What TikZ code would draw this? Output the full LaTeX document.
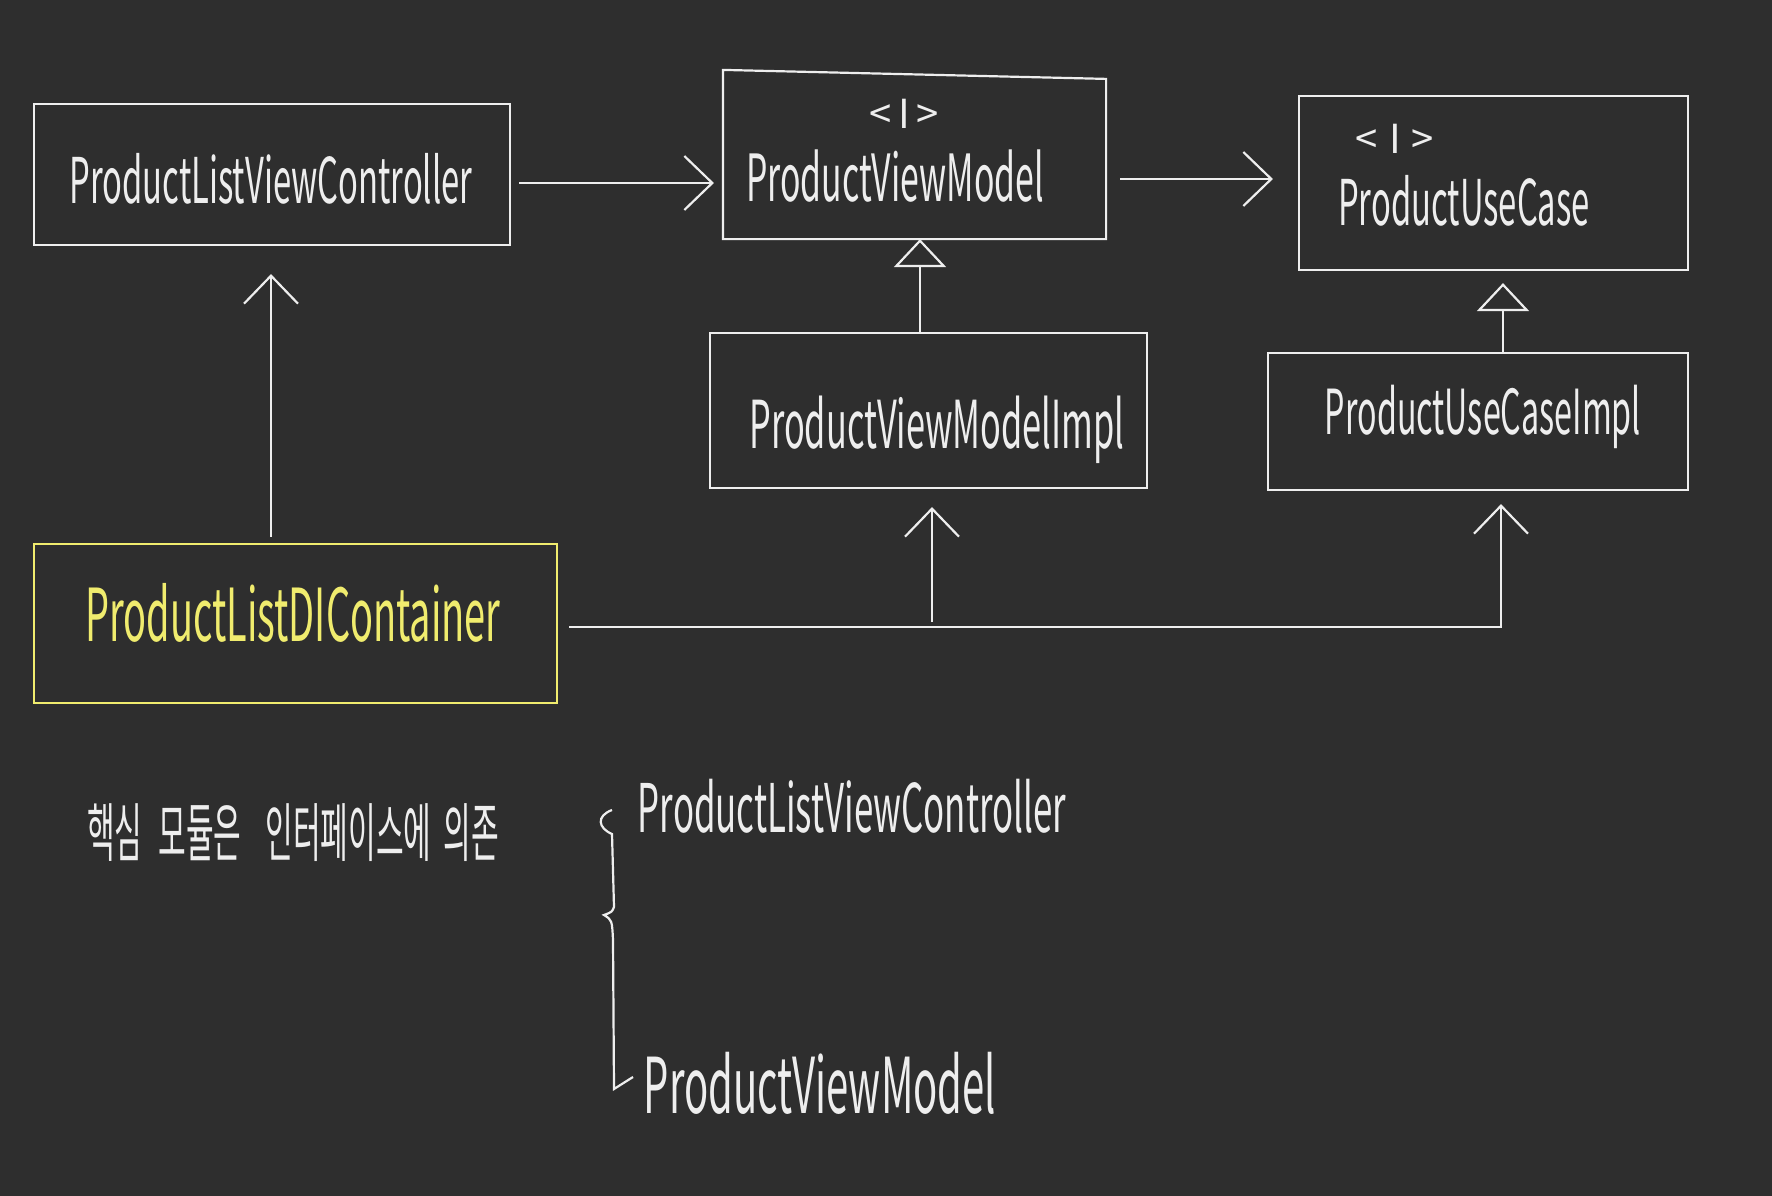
\documentclass[tikz,border=0pt]{standalone}
\usepackage{fontspec}
\newfontfamily\hand[FakeStretch=0.52]{Noto Sans CJK KR}
\newfontfamily\handkr[FakeStretch=0.47]{Noto Sans CJK KR}
\newfontfamily\handtag{Noto Sans CJK KR}
\newcommand{\handfont}[1]{\hand\fontsize{#1pt}{#1pt}\selectfont}
\usetikzlibrary{arrows.meta}
\definecolor{board}{RGB}{46,46,46}
\definecolor{chalk}{RGB}{238,238,238}
\definecolor{marker}{RGB}{240,236,110}

\begin{document}
\begin{tikzpicture}[x=1pt,y=-1pt,line width=2.2pt,color=chalk,
		box/.style={draw,inner sep=0pt},
		txt/.style={inner sep=0pt},
		tag/.style={inner sep=0pt,font=\handtag\fontsize{40pt}{40pt}\selectfont},
		arr/.style={-{Straight Barb[length=28pt,width=54pt]}},
		inh/.style={-{Bar[width=0pt,sep=10pt]Triangle[open,length=28pt,width=52pt]}}]
		\fill[board] (0,0) rectangle (1772,1196);

		% boxes
		\node[box,minimum width=476pt,minimum height=141pt] (vc) at (272,174.5) {};
		\node[minimum width=381pt,minimum height=163pt] (vm) at (914.5,156.5) {};
		\draw ([yshift=4pt]vm.north west) -- ([yshift=-5pt]vm.north east)
			-- (vm.south east) -- (vm.south west) -- cycle;
		\node[box,minimum width=389pt,minimum height=174pt] (uc) at (1493.5,183) {};
		\node[box,minimum width=437pt,minimum height=155pt] (vmi) at (928.5,410.5) {};
		\node[box,minimum width=420pt,minimum height=137pt] (uci) at (1478,421.5) {};
		\node[box,draw=marker,minimum width=523pt,minimum height=159pt] (di) at (295.5,623.5) {};

		% labels
		\node[txt,font=\handfont{63}] (vctext) at (271,179) {ProductListViewController};
		\node[tag] (vmtag) at (904,114) {<\,I\,>};
		\node[txt,font=\handfont{65}] (vmtext) at (895,176) {ProductViewModel};
		\node[tag] (uctag) at (1395,139) {<\;I\;>};
		\node[txt,font=\handfont{63}] (uctext) at (1464,201) {ProductUseCase};
		\node[txt,font=\handfont{66}] (vmitext) at (937,430) {ProductViewModelImpl};
		\node[txt,font=\handfont{62}] (ucitext) at (1483,417) {ProductUseCaseImpl};
		\node[txt,text=marker,font=\handfont{73}] (ditext) at (293,613) {ProductListDIContainer};

		% arrows
		\draw[arr,shorten <=8pt,shorten >=9pt] (vc.east |- 0,183) -- (vm.west |- 0,183);
		\draw[arr,shorten <=14pt,shorten >=25pt] (vm.east |- 0,179) -- (uc.west |- 0,179);
		\draw[inh] ([xshift=-8.5pt]vmi.north) -- ([xshift=5.5pt]vm.south);
		\draw[inh,shorten >=12pt] ([xshift=25pt]uci.north) -- ([xshift=9.5pt]uc.south);
		\draw[arr,shorten <=6pt,shorten >=28pt] (di.north -| 271,0) -- (vc.south -| 271,0);
		\draw[arr,shorten <=11pt,shorten >=13pt] (di.east |- 0,627) -| ([xshift=23pt]uci.south);
		\coordinate (split) at (932,627);
		\draw[arr,shorten <=5pt,shorten >=18pt] (split) -- (vmi.south -| split);

		% note
		\node[txt,font=\handkr\fontsize{64pt}{64pt}\selectfont] (note) at (293,833)
			{핵심\hspace{16pt}모듈은\hspace{24pt}인터페이스에\hspace{12pt}의존};
		\draw (612,810) .. controls (596,816) and (598,828) .. (612,834)
			-- (614,907) .. controls (612,912) .. (604,915)
			.. controls (612,920) .. (613,940) -- (614,1089) -- (633,1077);
		\node[txt,font=\handfont{67}] (notevc) at (852,806) {ProductListViewController};
		\node[txt,font=\handfont{77}] (notevm) at (820,1083) {ProductViewModel};
	\end{tikzpicture}
\end{document}
